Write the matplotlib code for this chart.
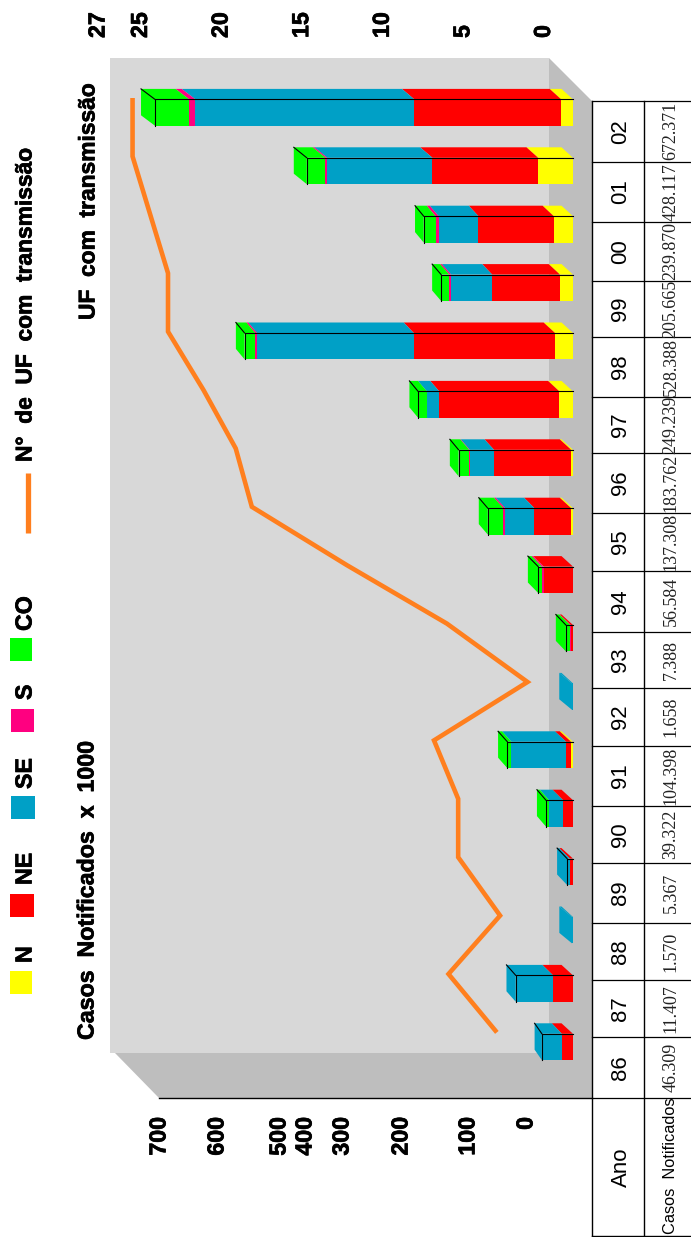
import matplotlib
matplotlib.use('Agg')
import matplotlib.pyplot as plt
import matplotlib.patheffects as pe
import numpy as np

plt.rcParams['font.family'] = ['Liberation Sans', 'DejaVu Sans']

# dados
anos = ['86', '87', '88', '89', '90', '91', '92', '93', '94', '95', '96', '97', '98', '99', '00', '01', '02']
casos_txt = ['46.309', '11.407', '1.570', '5.367', '39.322', '104.398', '1.658', '7.388', '56.584',
             '137.308', '183.762', '249.239', '528.388', '205.665', '239.870', '428.117', '672.371']
N = [0, 0, 0, 0, 0, 3, 0, 0, 0, 3, 3, 22, 29, 21, 31, 56, 19]
NE = [18, 32, 0, 5, 16, 8, 0, 3.5, 47, 59, 124, 193, 227, 109, 121, 170, 236]
SE = [32, 60, 1.57, 4.5, 22.5, 88, 1.66, 0, 0, 47, 39, 20, 252, 66, 64, 169, 352]
S = [0, 0, 0, 0, 0, 0, 0, 1, 3, 3, 1, 0, 3, 3, 5, 3, 10]
CO = [0, 0, 0, 0, 5, 6.5, 0, 7, 6, 25, 17, 14, 17, 13, 19, 30, 55]
uf = [2.8, 5.8, 2.6, 5.2, 5.2, 6.7, 0.9, 5.9, 12.1, 18.0, 19.0, 21.0, 23.2, 23.2, 24.3, 25.4, 25.4]
ticks_casos = ['700', '600', '500', '400', '300', '200', '100', '0']
ticks_uf = [0, 5, 10, 15, 20, 25]

regioes = [N, NE, SE, S, CO]
cores = ['#FFFF00', '#FF0000', '#00A0C6', '#FF0080', '#00FF00']

# escala em pixels
W, H = 691, 1237
PX_CASO = 0.622
X0 = 573
PX_ANO = 58.4
Y0 = 1047
PX_UF = 16.12
X0_UF = 542
ALT = 26.4 / PX_ANO
DY = 10.5
dx_esq = [7.3, 9.3, 12.7, 10, 9, 9.3, 12.7, 10, 10.3, 9, 8.7, 8.7, 8.7, 9, 8.7, 13, 14]
DX_DIR = 11.5

fig = plt.figure(figsize=(W / 100, H / 100), dpi=100)

# eixo de fundo, em pixels
bg = fig.add_axes([0, 0, 1, 1])
bg.set_xlim(0, W)
bg.set_ylim(H, 0)
bg.axis('off')
bg.fill([110, 549, 549, 110], [58, 58, 1053, 1053], color='#D8D8D8', lw=0)
bg.fill([549, 592, 592, 159, 115, 549], [58, 101, 1098, 1098, 1053, 1053], color='#BEBEBE', lw=0)

# barras
ax = fig.add_axes([0, 0, 1, 1], facecolor='none')
ax.set_xlim(X0 / PX_CASO, (X0 - W) / PX_CASO)
ax.set_ylim(-(H - Y0) / PX_ANO, Y0 / PX_ANO)
ax.axis('off')

dados = np.array(regioes, dtype=float)
totais = dados.sum(axis=0)
for i in range(len(anos)):
    total = totais[i]
    topo = i + ALT / 2
    base = i - ALT / 2
    ddy = DY / PX_ANO

    def desloc(v):
        return (DX_DIR + (dx_esq[i] - DX_DIR) * v / total) / PX_CASO

    acum = 0
    ultima = None
    for valores, cor in zip(regioes, cores):
        v = valores[i]
        if v == 0:
            continue
        ax.barh(i, v, left=acum, height=ALT, color=cor, lw=0, zorder=3)
        ax.fill([acum, acum + v, acum + v + desloc(acum + v), acum + desloc(acum)],
                [topo, topo, topo + ddy, topo + ddy], color=cor, lw=0, zorder=3)
        acum += v
        ultima = cor
    d = desloc(total)
    ax.fill([total, total, total + d, total + d],
            [base, topo, topo + ddy, base + ddy], color=ultima, lw=0, zorder=3)
    if total > 5:
        ax.plot([0, total, total], [topo, topo, base], color='k', lw=0.8, zorder=4)
        ax.plot([total, total + d], [topo, topo + ddy], color='k', lw=0.8, zorder=4)

# linha de UF com transmissao
ax_uf = fig.add_axes([0, 0, 1, 1], facecolor='none')
ax_uf.set_xlim(X0_UF / PX_UF, (X0_UF - W) / PX_UF)
ax_uf.set_ylim(-(H - Y0) / PX_ANO - 0.25, Y0 / PX_ANO - 0.25)
ax_uf.axis('off')
ax_uf.plot(uf, np.arange(len(anos)), color='#FF7F1E', lw=3.3, solid_joinstyle='miter', solid_capstyle='butt')

negrito = [pe.withStroke(linewidth=0.5, foreground='k')]


def txt(x, y, s, size=16.7, weight='bold', **kw):
    kw.setdefault('ha', 'center')
    kw.setdefault('va', 'center')
    t = bg.text(x, y, s, rotation=90, fontsize=size, fontweight=weight, **kw)
    if weight == 'bold':
        t.set_path_effects(negrito)


# rotulos dos eixos
for s, x in zip(ticks_casos, [159, 217, 279, 305, 342, 401, 468, 526]):
    txt(x, 1117, s, va='top')
for v in ticks_uf:
    txt(X0_UF - v * PX_UF + 1.5, 38, str(v), va='bottom')
txt(98, 38, '27', va='bottom')

txt(87, 1040, 'Casos  Notificados  x  1000', va='bottom')
txt(88, 320, 'UF  com  transmissão', size=16.4, va='bottom')
txt(25, 462, 'N°  de  UF  com  transmissão', size=16.4, va='bottom')

# legenda
leg_nomes = ['N', 'NE', 'SE', 'S', 'CO']
leg_x = [(10, 32), (10, 34), (11, 35), (11, 34), (10, 32)]
leg_y = [(971, 994), (894, 917), (796, 819), (709, 732), (638, 661)]
leg_txt = [963, 885, 789, 700, 631]
for nome, cor, lx, ly, ty in zip(leg_nomes, cores, leg_x, leg_y, leg_txt):
    bg.fill([lx[0], lx[1], lx[1], lx[0]], [ly[0], ly[0], ly[1], ly[1]], color=cor, lw=0)
    txt(25, ty, nome, va='bottom')
bg.plot([28.5, 28.5], [473, 533], color='#FF7F1E', lw=3.8, solid_capstyle='butt')

# tabela
linhas_y = [101, 161.5, 222, 281, 337, 397, 453, 513, 571, 632, 688, 746, 806, 863, 923, 980, 1037, 1098]
for y in linhas_y:
    bg.plot([592, W], [y, y], color='k', lw=0.9)
bg.plot([159, 592], [1098, 1098], color='k', lw=1.0)
bg.plot([592, 592], [101, 1236], color='k', lw=1.0)
bg.plot([644, 644], [101, 1236], color='k', lw=1.0)
bg.plot([592, 691], [1236, 1236], color='k', lw=1.0)

for i in range(len(anos)):
    yc = (linhas_y[16 - i] + linhas_y[17 - i]) / 2
    txt(621, yc, anos[i], size=16, weight='normal')
    txt(671, yc, casos_txt[i], size=13, weight='normal', family='Liberation Serif', color='#222222')
txt(621, 1167, 'Ano', size=16, weight='normal')
txt(671, 1166, 'Casos  Notificados', size=11.8, weight='normal')

fig.savefig('out.png', dpi=100)
